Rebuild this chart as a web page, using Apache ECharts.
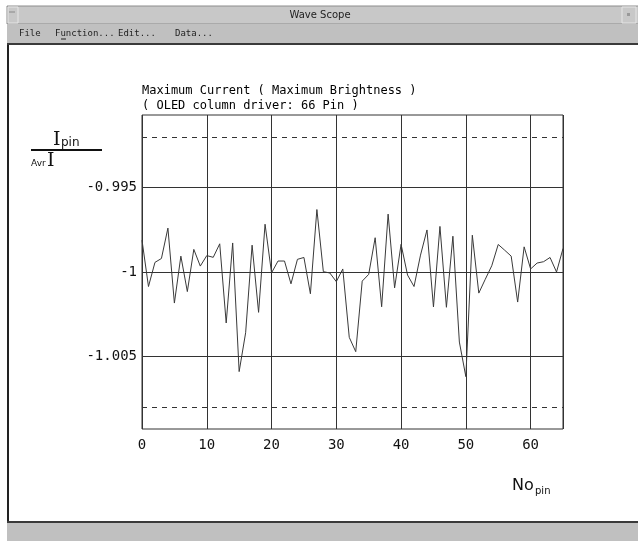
<!DOCTYPE html>
<html>
<head>
<meta charset="utf-8">
<script src="https://cdn.jsdelivr.net/npm/echarts@6/dist/echarts.min.js"></script>
<style>
  html, body { margin: 0; padding: 0; background: #fff; }
  #main { width: 638px; height: 541px; }
</style>
</head>
<body>
<div id="main"></div>
<script>
// pin number along x
const pins = [
  0, 1, 2, 3, 4, 5, 6, 7, 8, 9, 10, 11, 12, 13, 14, 15, 16, 17, 18, 19, 20, 21,
  22, 23, 24, 25, 26, 27, 28, 29, 30, 31, 32, 33, 34, 35, 36, 37, 38, 39, 40, 41, 42, 43,
  44, 45, 46, 47, 48, 49, 50, 51, 52, 53, 54, 55, 56, 57, 58, 59, 60, 61, 62, 63, 64, 65
];
// I_pin / Avr I
const ratio = [
  -0.99812, -1.00086, -0.99943, -0.99920, -0.99740, -1.00184, -0.99906, -1.00116,
  -0.99866, -0.99965, -0.99903, -0.99913, -0.99833, -1.00302, -0.99828, -1.00590,
  -1.00360, -0.99841, -1.00239, -0.99717, -1.00005, -0.99935, -0.99935, -1.00070,
  -0.99925, -0.99914, -1.00129, -0.99630, -0.99998, -1.00006, -1.00057, -0.99982,
  -1.00387, -1.00472, -1.00054, -1.00014, -0.99797, -1.00206, -0.99657, -1.00094,
  -0.99836, -1.00018, -1.00086, -0.99900, -0.99751, -1.00207, -0.99730, -1.00209,
  -0.99788, -1.00415, -1.00620, -0.99782, -1.00125, -1.00043, -0.99963, -0.99837,
  -0.99871, -0.99906, -1.00178, -0.99851, -0.99982, -0.99947, -0.99939, -0.99914,
  -1.00000, -0.99861
];
const yTicks = [-0.995, -1, -1.005];   // solid grid + labels
const limits = [-0.992, -1.008];       // dashed limit lines
const xTicks = [0, 10, 20, 30, 40, 50, 60];
const menuItems = ['File', 'Function...', 'Edit...', 'Data...'];
const menuX = [19, 55, 118, 175];

const chart = echarts.init(document.getElementById('main'));

let gridMarks = [];
for (let i = 0; i < yTicks.length; i++) {
  gridMarks.push({ yAxis: yTicks[i], lineStyle: { type: 'solid' } });
}
for (let i = 0; i < limits.length; i++) {
  gridMarks.push({ yAxis: limits[i], lineStyle: { type: [5, 5] } });
}

let menuText = [];
for (let i = 0; i < menuItems.length; i++) {
  menuText.push({
    type: 'text', x: menuX[i], y: 34,
    style: { text: menuItems[i], font: '9px "DejaVu Sans Mono"', fill: '#222', verticalAlign: 'middle' }
  });
}

const mono = '"DejaVu Sans Mono", monospace';

chart.setOption({
  backgroundColor: '#fff',
  animation: false,
  title: {
    text: 'Maximum Current ( Maximum Brightness )\n( OLED column driver: 66 Pin )',
    left: 142,
    top: 83,
    padding: 0,
    textStyle: { fontFamily: mono, fontSize: 12, fontWeight: 'normal', color: '#000', lineHeight: 15 }
  },
  grid: {
    left: 142, right: 75, top: 115, bottom: 112,
    show: true, borderColor: '#333', borderWidth: 1
  },
  xAxis: {
    type: 'value',
    min: 0, max: 65, interval: 10,
    axisLine: { show: false },
    axisTick: { show: false },
    splitLine: { show: true, lineStyle: { color: '#333', width: 1 } },
    axisLabel: {
      margin: 9, fontFamily: mono, fontSize: 14, color: '#111',
      customValues: xTicks
    }
  },
  yAxis: {
    type: 'value',
    min: -1.0093, max: -0.9907,
    axisLine: { show: false },
    axisTick: { show: false },
    splitLine: { show: false },
    axisLabel: {
      margin: 5, fontFamily: mono, fontSize: 14, color: '#111',
      customValues: yTicks,
      formatter: function (v) { return String(+v.toFixed(3)); }
    }
  },
  series: [{
    type: 'line',
    data: pins.map(function (p, i) { return [p, ratio[i]]; }),
    symbol: 'none',
    lineStyle: { color: '#3a3a3a', width: 1 },
    markLine: {
      silent: true,
      precision: 5,
      symbol: ['none', 'none'],
      label: { show: false },
      lineStyle: { color: '#333', width: 1 },
      data: gridMarks
    }
  }],
  graphic: [
    // window title bar
    { type: 'rect', shape: { x: 7, y: 6, width: 632, height: 18 }, style: { fill: '#c8c8c8', stroke: '#8c8c8c', lineWidth: 1 } },
    { type: 'rect', shape: { x: 8, y: 7, width: 10, height: 16 }, style: { fill: '#c8c8c8', stroke: '#e6e6e6', lineWidth: 1 } },
    { type: 'line', shape: { x1: 9, y1: 12, x2: 15, y2: 12 }, style: { stroke: '#888', lineWidth: 1 } },
    { type: 'rect', shape: { x: 622, y: 7, width: 14, height: 16 }, style: { fill: '#c8c8c8', stroke: '#e6e6e6', lineWidth: 1 } },
    { type: 'rect', shape: { x: 627, y: 13, width: 3, height: 3 }, style: { fill: '#999' } },
    { type: 'text', x: 320, y: 15, style: { text: 'Wave Scope', font: '10px "DejaVu Sans"', fill: '#222', align: 'center', verticalAlign: 'middle' } },
    // menu bar
    { type: 'rect', shape: { x: 7, y: 24, width: 631, height: 19 }, style: { fill: '#c0c0c0' } },
    { type: 'rect', shape: { x: 7, y: 43, width: 631, height: 2 }, style: { fill: '#3a3a3a' } },
    { type: 'line', shape: { x1: 61, y1: 39, x2: 66, y2: 39 }, style: { stroke: '#222', lineWidth: 1 } },
    // window frame
    { type: 'rect', shape: { x: 7, y: 45, width: 2, height: 477 }, style: { fill: '#222' } },
    { type: 'rect', shape: { x: 7, y: 522, width: 631, height: 19 }, style: { fill: '#c0c0c0' } },
    { type: 'rect', shape: { x: 7, y: 521, width: 631, height: 2 }, style: { fill: '#3a3a3a' } },
    // y axis name: I_pin / Avr I
    { type: 'text', x: 53, y: 140, style: { text: 'I', font: '19px "DejaVu Serif"', fill: '#111', verticalAlign: 'middle' } },
    { type: 'text', x: 61, y: 143, style: { text: 'pin', font: '12px "DejaVu Sans"', fill: '#111', verticalAlign: 'middle' } },
    { type: 'rect', shape: { x: 31, y: 149, width: 71, height: 2 }, style: { fill: '#111' } },
    { type: 'text', x: 31, y: 164, style: { text: 'Avr', font: '9px "DejaVu Sans"', fill: '#111', verticalAlign: 'middle' } },
    { type: 'text', x: 47, y: 161, style: { text: 'I', font: '19px "DejaVu Serif"', fill: '#111', verticalAlign: 'middle' } },
    // x axis name: No_pin
    { type: 'text', x: 512, y: 486, style: { text: 'No', font: '16px "DejaVu Sans"', fill: '#111', verticalAlign: 'middle' } },
    { type: 'text', x: 535, y: 491, style: { text: 'pin', font: '10px "DejaVu Sans"', fill: '#111', verticalAlign: 'middle' } }
  ].concat(menuText)
});
</script>
</body>
</html>
